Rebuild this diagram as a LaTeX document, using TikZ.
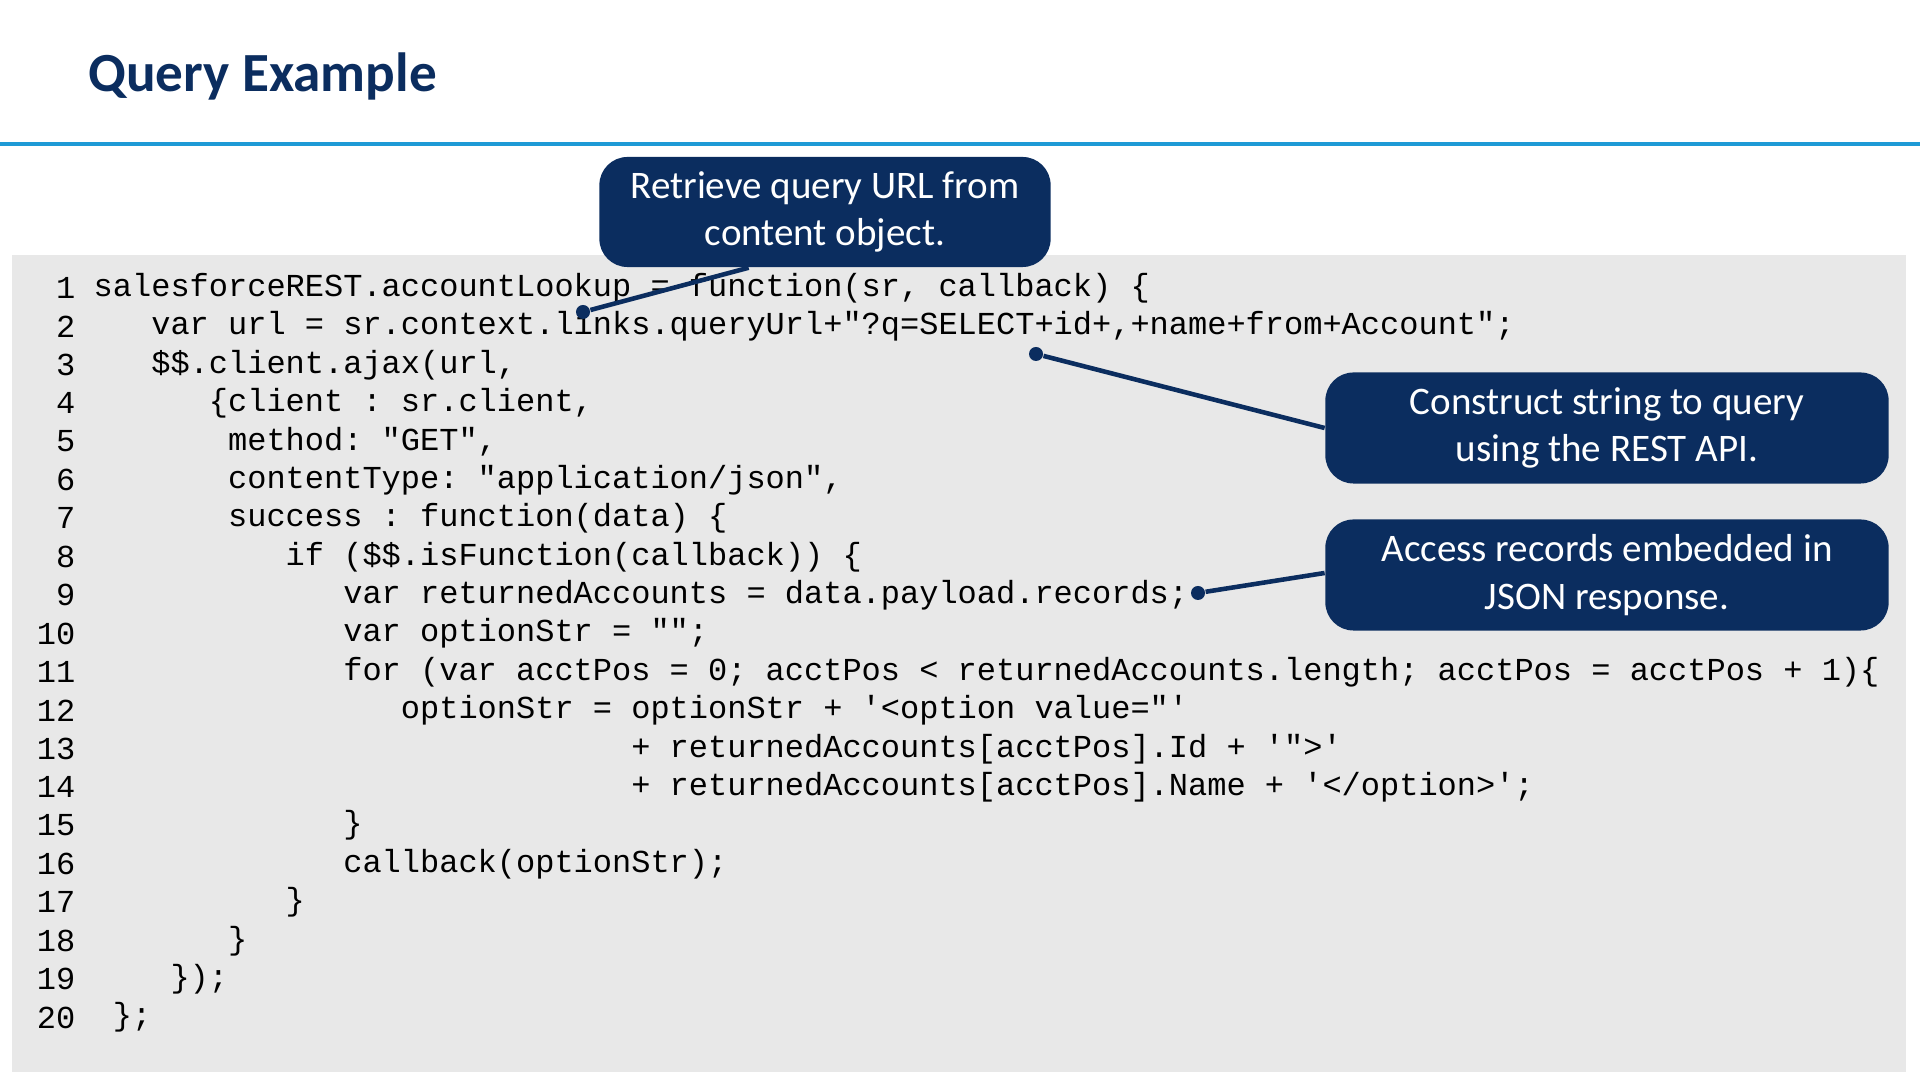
\documentclass[tikz,border=0pt]{standalone}
\usepackage{fontspec}
\setmainfont{Carlito}
\setmonofont{Liberation Mono}
\usetikzlibrary{positioning}
\definecolor{navy}{HTML}{0B2D5F}
\definecolor{rule}{HTML}{1E9AD6}
\definecolor{panel}{HTML}{E8E8E8}
\newcommand{\codeln}[3]{%
  \node[lnum] (n#1) at (76,{288+38.4*(#1-1)}) {#1};
  \node[code] (c#1) at ({93+19.2*#2},{288+38.4*(#1-1)}) {#3};}

\begin{document}
\begin{tikzpicture}[x=0.01cm, y=-0.01cm,
  lnum/.style={anchor=east, font=\ttfamily\fontsize{9.1}{10}\selectfont, inner sep=0pt},
  code/.style={anchor=west, font=\ttfamily\fontsize{9.1}{10}\selectfont, inner sep=0pt},
  callout/.style={fill=navy, rounded corners=8pt, text=white, align=center,
    font=\fontsize{11.1}{13.6}\selectfont, inner sep=0pt},
  link/.style={navy, line width=1.3pt},
  dot/.style={circle, fill=navy, inner sep=0pt, minimum size=0.14cm}]
  \useasboundingbox (0,0) rectangle (1920,1080);
  \node[anchor=west, text=navy, font=\bfseries\fontsize{15.7}{19}\selectfont] (title) at (76,76) {Query Example};
  \draw[rule, line width=1.2pt] (0,144) -- (1920,144);
  \fill[panel] (12,255) rectangle (1906,1072);

  \codeln{1}{0}{salesforceREST.accountLookup = function(sr, callback) \{}
  \codeln{2}{3}{var url = sr.context.links.queryUrl+"?q=SELECT+id+,+name+from+Account";}
  \codeln{3}{3}{\$\$.client.ajax(url,}
  \codeln{4}{6}{\{client : sr.client,}
  \codeln{5}{7}{method: "GET",}
  \codeln{6}{7}{contentType: "application/json",}
  \codeln{7}{7}{success : function(data) \{}
  \codeln{8}{10}{if (\$\$.isFunction(callback)) \{}
  \codeln{9}{13}{var returnedAccounts = data.payload.records;}
  \codeln{10}{13}{var optionStr = "";}
  \codeln{11}{13}{for (var acctPos = 0; acctPos < returnedAccounts.length; acctPos = acctPos + 1)\{}
  \codeln{12}{16}{optionStr = optionStr + '<option value="'}
  \codeln{13}{28}{+ returnedAccounts[acctPos].Id + '">'}
  \codeln{14}{28}{+ returnedAccounts[acctPos].Name + '</option>';}
  \codeln{15}{13}{\}}
  \codeln{16}{13}{callback(optionStr);}
  \codeln{17}{10}{\}}
  \codeln{18}{7}{\}}
  \codeln{19}{4}{\});}
  \codeln{20}{1}{\};}

  % callouts
  \node[callout, minimum width=4.51cm, minimum height=1.1cm] (url) at (825,212) {Retrieve query URL from\\content object.};
  \node[callout, minimum width=5.63cm, minimum height=1.11cm] (str) at (1607,428) {Construct string to query\\using the REST API.};
  \node[callout, minimum width=5.63cm, minimum height=1.11cm] (rec) at (1607,575) {Access records embedded in\\JSON response.};
  \node[dot] (d1) at (583,312) {};
  \node[dot] (d2) at (1036,354) {};
  \node[dot] (d3) at (1198,593) {};
  \draw[link] (url.south west) ++(150,0) coordinate (u1) -- (d1);
  \draw[link] (str.west) -- (d2);
  \draw[link] (rec.west) ++(0,-2) coordinate (r1) -- (d3);
\end{tikzpicture}
\end{document}
